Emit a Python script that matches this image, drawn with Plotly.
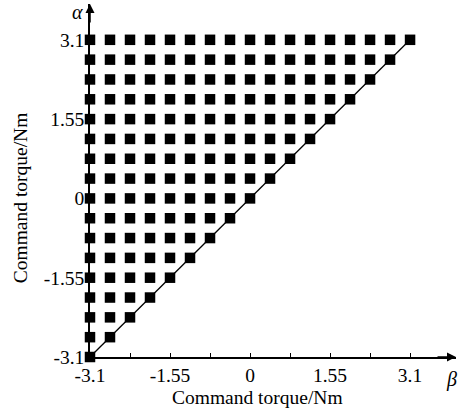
import plotly.graph_objects as go

# Grid levels of command torque (Nm) for beta (x) and alpha (y)
levels = [-3.1, -2.7125, -2.325, -1.9375, -1.55, -1.1625, -0.775, -0.3875, 0.0,
          0.3875, 0.775, 1.1625, 1.55, 1.9375, 2.325, 2.7125, 3.1]
tick_vals = [-3.1, -2.325, -1.55, -0.775, 0.0, 0.775, 1.55, 2.325, 3.1]
tick_text = ["-3.1", "", "-1.55", "", "0", "", "1.55", "", "3.1"]
diag = [-3.1, 3.1]

beta_pts = []
alpha_pts = []
for a in levels:
    for b in levels:
        if a >= b - 1e-9:
            beta_pts.append(b)
            alpha_pts.append(a)

FONT = "Liberation Serif"
FS = 19.5

fig = go.Figure()
fig.add_trace(go.Scatter(x=diag, y=diag, mode="lines",
                         line=dict(color="black", width=1.3),
                         cliponaxis=False, hoverinfo="skip"))
fig.add_trace(go.Scatter(x=beta_pts, y=alpha_pts, mode="markers",
                         marker=dict(symbol="square", size=10.5, color="black",
                                     line=dict(width=0)),
                         cliponaxis=False))

xmax = 3.99
ymax = 3.80
axis_common = dict(showgrid=False, zeroline=False,
                   showline=True, linecolor="black", linewidth=1.5,
                   ticks="inside", ticklen=4, tickwidth=1.2, tickcolor="black",
                   tickvals=tick_vals, ticktext=tick_text, automargin=False,
                   tickfont=dict(family=FONT, size=FS, color="black"))
fig.update_layout(
    width=459, height=412,
    margin=dict(l=90, r=3, t=4, b=55, autoexpand=False),
    plot_bgcolor="white", paper_bgcolor="white",
    showlegend=False,
    font=dict(family=FONT, size=FS, color="black"),
    xaxis=dict(range=[-3.1, xmax], **axis_common),
    yaxis=dict(range=[-3.1, ymax], **axis_common),
)

# axis arrowheads
fig.add_annotation(x=xmax, y=-3.1, xref="x", yref="y", text="", showarrow=True,
                   ax=-20, ay=0, arrowhead=2, arrowsize=1.2, arrowwidth=1.5,
                   arrowcolor="black")
fig.add_annotation(x=-3.1, y=ymax, xref="x", yref="y", text="", showarrow=True,
                   ax=0, ay=20, arrowhead=2, arrowsize=1.2, arrowwidth=1.5,
                   arrowcolor="black")

# titles and axis symbols
fig.add_annotation(x=0.459, y=-0.116, xref="paper", yref="paper",
                   text="Command torque/Nm", showarrow=False,
                   font=dict(family=FONT, size=FS, color="black"),
                   xanchor="center", yanchor="middle")
fig.add_annotation(x=-0.191, y=0.45, xref="paper", yref="paper",
                   text="Command torque/Nm", showarrow=False, textangle=-90,
                   font=dict(family=FONT, size=FS, color="black"),
                   xanchor="center", yanchor="middle")
fig.add_annotation(x=-0.033, y=0.977, xref="paper", yref="paper",
                   text="<i>α</i>", showarrow=False,
                   font=dict(family=FONT, size=20, color="black"),
                   xanchor="center", yanchor="middle")
fig.add_annotation(x=0.989, y=-0.065, xref="paper", yref="paper",
                   text="<i>β</i>", showarrow=False,
                   font=dict(family=FONT, size=20, color="black"),
                   xanchor="center", yanchor="middle")

fig.write_html("out.html", config={"displayModeBar": False},
               post_script="document.body.style.margin='0';")
